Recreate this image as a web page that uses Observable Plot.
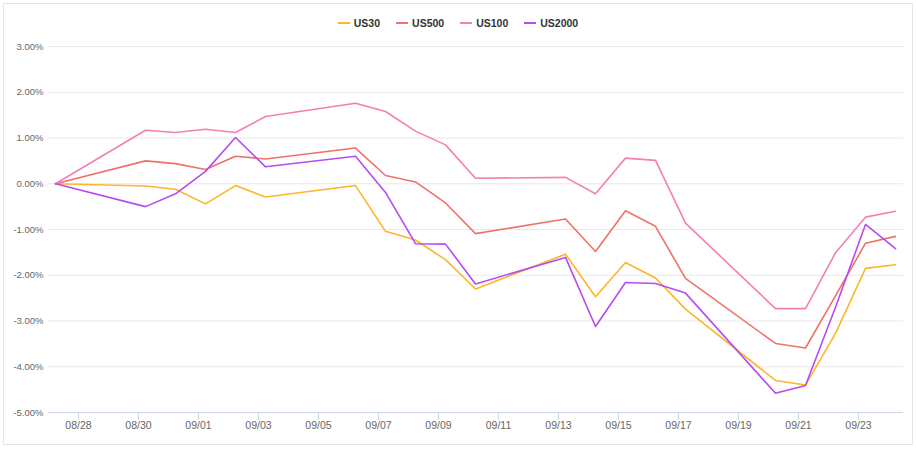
<!DOCTYPE html>
<html>
<head>
<meta charset="utf-8">
<script src="https://cdn.jsdelivr.net/npm/d3@7"></script>
<script src="https://cdn.jsdelivr.net/npm/@observablehq/plot@0.6"></script>
<style>
  html, body { margin: 0; padding: 0; background: #fff; }
  #wrap { position: relative; width: 916px; height: 449px; overflow: hidden; font-family: "Liberation Sans", Arial, sans-serif; }
  #frame { position: absolute; left: 3px; top: 3px; width: 908px; height: 440px; border: 1px solid #dfe5ea; box-sizing: content-box; pointer-events: none; }
  #legend { position: absolute; left: 0; top: 17px; width: 916px; display: flex; justify-content: center; gap: 16px; font-size: 10.5px; font-weight: bold; color: #333; line-height: 12px; }
  #legend .item { display: flex; align-items: center; gap: 4px; }
  #legend .sw { width: 12px; height: 2px; }
  #chart { position: absolute; left: 0; top: 0; }
</style>
</head>
<body>
<div id="wrap">
  <div id="frame"></div>
  <div id="chart"></div>
  <div id="legend"></div>
</div>
<script>
// Trading dates (2021)
const dates = ["2021-08-27","2021-08-30","2021-08-31","2021-09-01","2021-09-02","2021-09-03",
  "2021-09-06","2021-09-07","2021-09-08","2021-09-09","2021-09-10","2021-09-13","2021-09-14",
  "2021-09-15","2021-09-16","2021-09-17","2021-09-20","2021-09-21","2021-09-22","2021-09-23","2021-09-24"];
// Cumulative % change per series
const series = ["US30", "US500", "US100", "US2000"];
const us30   = [0, -0.05, -0.12, -0.44, -0.04, -0.29, -0.04, -1.04, -1.23, -1.66, -2.30, -1.54, -2.47, -1.72, -2.06, -2.74, -4.30, -4.40, -3.27, -1.85, -1.77];
const us500  = [0, 0.50, 0.44, 0.31, 0.60, 0.54, 0.78, 0.18, 0.04, -0.42, -1.09, -0.77, -1.48, -0.59, -0.93, -2.07, -3.49, -3.59, -2.45, -1.30, -1.15];
const us100  = [0, 1.17, 1.12, 1.19, 1.12, 1.47, 1.76, 1.58, 1.15, 0.85, 0.12, 0.14, -0.22, 0.56, 0.51, -0.86, -2.73, -2.73, -1.51, -0.73, -0.60];
const us2000 = [0, -0.50, -0.22, 0.27, 1.01, 0.37, 0.60, -0.19, -1.31, -1.32, -2.19, -1.61, -3.12, -2.16, -2.18, -2.39, -4.58, -4.41, -2.70, -0.89, -1.42];
const colors = ["#fbb62c", "#ef7268", "#f37fb5", "#b64af3"];
// Axis ticks
const xTickDates = ["2021-08-28","2021-08-30","2021-09-01","2021-09-03","2021-09-05","2021-09-07","2021-09-09",
  "2021-09-11","2021-09-13","2021-09-15","2021-09-17","2021-09-19","2021-09-21","2021-09-23"];
const yTicks = [-5, -4, -3, -2, -1, 0, 1, 2, 3];

// Observations are stamped at a fixed time of day (closing time in chart's time zone)
const stampHours = 5.6;
const toStamp = s => new Date(new Date(s + "T00:00:00Z").getTime() + stampHours * 3600e3);
const values = [us30, us500, us100, us2000];
const data = series.flatMap((name, i) => dates.map((d, j) => ({series: name, date: toStamp(d), value: values[i][j]})));
const xTicks = xTickDates.map(s => new Date(s + "T00:00:00Z"));

const chart = Plot.plot({
  width: 916,
  height: 449,
  marginLeft: 48,
  marginRight: 13,
  marginTop: 46,
  marginBottom: 37,
  style: {fontFamily: "'Liberation Sans', Arial, sans-serif", background: "transparent"},
  x: {type: "utc", domain: [new Date("2021-08-27T00:00:00Z"), new Date("2021-09-24T12:00:00Z")]},
  y: {domain: [-5, 3]},
  color: {domain: series, range: colors},
  marks: [
    Plot.gridY(yTicks, {stroke: "#e8e8e8", strokeOpacity: 1}),
    Plot.ruleY([-5], {stroke: "#ccd6eb"}),
    Plot.axisY({ticks: yTicks, tickSize: 0, tickPadding: 5, tickFormat: d => d.toFixed(2) + "%", fill: "#666", fontSize: 9.5, label: null}),
    Plot.axisX({ticks: xTicks, tickSize: 8, tickPadding: 1, stroke: "#ccd6eb", strokeOpacity: 1, fill: "#666", fontSize: 10.5, tickFormat: d3.utcFormat("%m/%d"), label: null}),
    Plot.lineY(data, {x: "date", y: "value", stroke: "series", strokeWidth: 1.6})
  ]
});
document.getElementById("chart").appendChild(chart);

const legend = document.getElementById("legend");
series.forEach((s, i) => {
  const item = document.createElement("div");
  item.className = "item";
  const sw = document.createElement("span");
  sw.className = "sw";
  sw.style.background = colors[i];
  const t = document.createElement("span");
  t.textContent = s;
  item.appendChild(sw);
  item.appendChild(t);
  legend.appendChild(item);
});
</script>
</body>
</html>
